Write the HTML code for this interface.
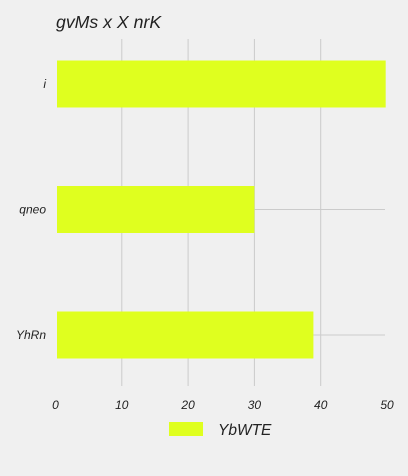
<!DOCTYPE html>
<html><head><meta charset="utf-8"><style>
html,body{margin:0;padding:0;background:#f0f0f0;}
svg{display:block;font-family:"Liberation Sans",sans-serif;font-style:italic;}
</style></head><body>
<svg id="chart" width="408" height="476">
<rect width="408" height="476" fill="#f0f0f0"/>
<text x="56" y="28" font-size="17.7" fill="#222">gvMs x X nrK</text>
<g id="grid"></g><g id="bars"></g><g id="ylabels"></g><g id="xlabels"></g>
<g>
<rect x="169" y="422" width="34" height="14" fill="#dfff1f"/>
<text x="218" y="435" font-size="15.5" fill="#222">YbWTE</text>
</g>
</svg>
<script>
const categories = ["i", "qneo", "YhRn"];
const values = [49.8, 30, 38.9];
const ticks = [0, 10, 20, 30, 40, 50];
const NS = "http://www.w3.org/2000/svg";
const x = v => 55.5 + v * 6.63;
const yc = i => 84 + i * 125.5;
function mk(tag, attrs, parent) { const e = document.createElementNS(NS, tag); for (const k in attrs) e.setAttribute(k, attrs[k]); document.getElementById(parent).appendChild(e); return e; }
ticks.forEach(t => {
  if (t > 0 && t < 50) {
    const l = mk("line", {x1: x(t), x2: x(t), y1: 39, y2: 386, stroke: "#cbcbcb", "stroke-width": 1}, "grid");
    
    
  }
  const tx = mk("text", {x: x(t), y: 409, "font-size": 12, fill: "#222", "text-anchor": "middle"}, "xlabels");
  tx.textContent = t;
  
  
});
categories.forEach((c, i) => {
  const g = mk("line", {x1: 57, x2: 385, y1: yc(i), y2: yc(i), stroke: "#cbcbcb", "stroke-width": 1}, "grid");
  
  
  const b = mk("rect", {x: 57, y: yc(i) - 23.5, width: x(values[i]) - 57, height: 47, fill: "#dfff1f"}, "bars");
  
  
  const t = mk("text", {x: 46, y: yc(i) + 4, "font-size": 12, fill: "#222", "text-anchor": "end"}, "ylabels");
  t.textContent = c;
  
  
});
</script>
</body></html>
